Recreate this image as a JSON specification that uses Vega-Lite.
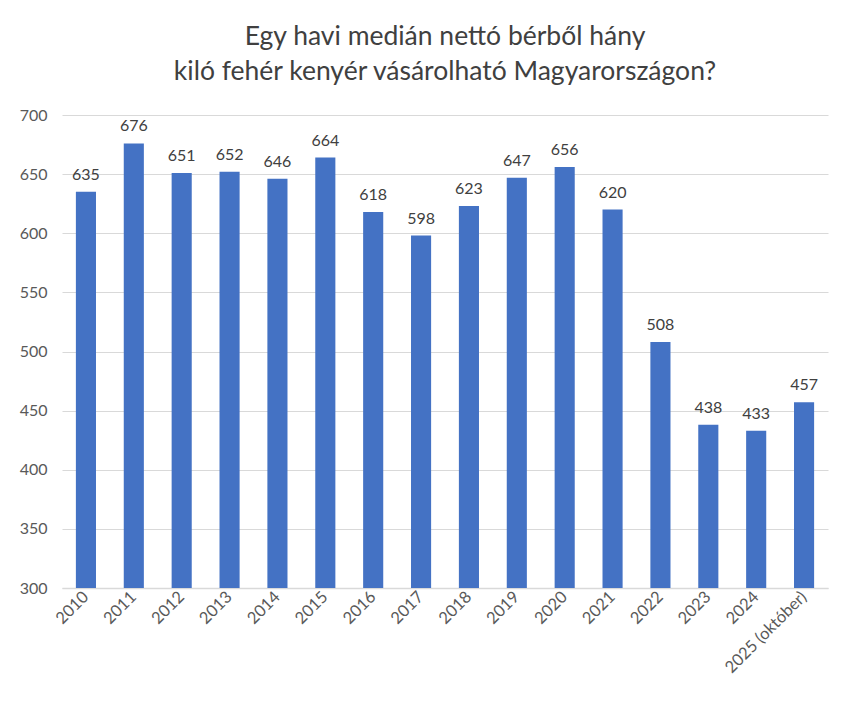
{
  "$schema": "https://vega.github.io/schema/vega-lite/v6.json",
  "width": 766,
  "height": 473,
  "autosize": "none",
  "padding": {"left": 62, "top": 115, "right": 30, "bottom": 124},
  "background": "#ffffff",
  "title": {
    "text": ["Egy havi medián nettó bérből hány", "kiló fehér kenyér vásárolható Magyarországon?"],
    "font": "Lato",
    "fontSize": 26.5,
    "fontWeight": "normal",
    "color": "#404040",
    "lineHeight": 35,
    "anchor": "middle",
    "offset": 22
  },
  "config": {
    "view": {"stroke": null},
    "font": "Lato"
  },
  "data": {
    "values": [
      {"year": "2010", "value": 635},
      {"year": "2011", "value": 676},
      {"year": "2012", "value": 651},
      {"year": "2013", "value": 652},
      {"year": "2014", "value": 646},
      {"year": "2015", "value": 664},
      {"year": "2016", "value": 618},
      {"year": "2017", "value": 598},
      {"year": "2018", "value": 623},
      {"year": "2019", "value": 647},
      {"year": "2020", "value": 656},
      {"year": "2021", "value": 620},
      {"year": "2022", "value": 508},
      {"year": "2023", "value": 438},
      {"year": "2024", "value": 433},
      {"year": "2025 (október)", "value": 457}
    ]
  },
  "encoding": {
    "x": {
      "field": "year",
      "type": "nominal",
      "sort": null,
      "title": null,
      "scale": {"paddingInner": 0.58, "paddingOuter": 0.29},
      "axis": {
        "labelAngle": -45,
        "labelAlign": "right",
        "labelBaseline": "middle",
        "labelFontSize": 16.5,
        "labelColor": "#595959",
        "labelPadding": 6,
        "ticks": false,
        "domainColor": "#d9d9d9",
        "domainWidth": 1.5,
        "labelLimit": 200
      }
    },
    "y": {
      "field": "value",
      "type": "quantitative",
      "title": null,
      "scale": {"domain": [300, 700], "zero": false, "nice": false},
      "axis": {
        "values": [300, 350, 400, 450, 500, 550, 600, 650, 700],
        "labelFontSize": 16,
        "labelColor": "#595959",
        "labelPadding": 15,
        "ticks": false,
        "domain": false,
        "gridColor": "#d9d9d9",
        "gridWidth": 1
      }
    }
  },
  "layer": [
    {"mark": {"type": "bar", "color": "#4472c4", "clip": true}},
    {
      "mark": {"type": "text", "dy": -17, "fontSize": 16, "color": "#404040"},
      "encoding": {"text": {"field": "value", "type": "quantitative"}}
    }
  ]
}
